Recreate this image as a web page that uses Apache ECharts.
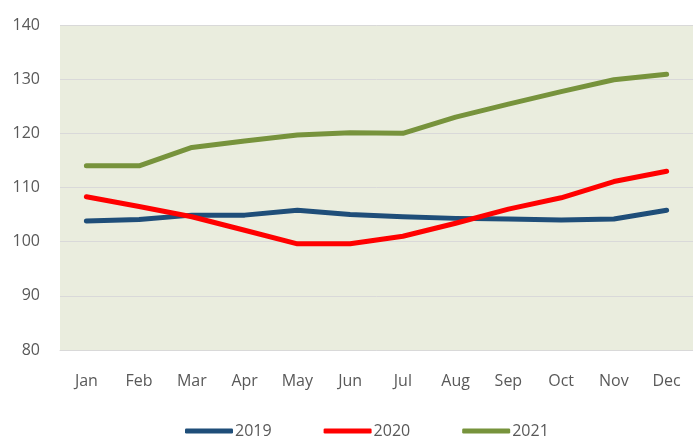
<!DOCTYPE html>
<html>
<head>
<meta charset="utf-8">
<script src="https://cdn.jsdelivr.net/npm/echarts@6/dist/echarts.min.js"></script>
<style>
  html, body { margin: 0; padding: 0; background: #ffffff; }
  #chart { width: 693px; height: 439px; }
</style>
</head>
<body>
<div id="chart"></div>
<script>
// Monthly index values, one line per year
const months = ['Jan', 'Feb', 'Mar', 'Apr', 'May', 'Jun', 'Jul', 'Aug', 'Sep', 'Oct', 'Nov', 'Dec'];
const years = ['2019', '2020', '2021'];
const values2019 = [103.8, 104.1, 104.9, 104.9, 105.8, 105.0, 104.6, 104.3, 104.2, 104.0, 104.2, 105.8];
const values2020 = [108.3, 106.5, 104.6, 102.1, 99.6, 99.6, 101.0, 103.4, 106.0, 108.1, 111.1, 113.0];
const values2021 = [114.0, 114.0, 117.4, 118.6, 119.7, 120.1, 120.0, 123.0, 125.4, 127.7, 129.9, 130.9];
const yTicks = { min: 80, max: 140, step: 10 };

const colors = ['#1F4E79', '#FF0000', '#77933C'];
const seriesValues = [values2019, values2020, values2021];

const chart = echarts.init(document.getElementById('chart'), null, { renderer: 'canvas' });

const textStyle = { color: '#595959', fontSize: 16, fontFamily: '"Open Sans", "Noto Sans", sans-serif' };

chart.setOption({
  animation: false,
  color: colors,
  grid: {
    left: 60,
    right: -10,
    top: 25,
    bottom: 89,
    show: true,
    backgroundColor: '#EAEDDE',
    borderWidth: 0
  },
  legend: {
    top: 418,
    left: 180,
    itemWidth: 48,
    itemHeight: 5,
    itemGap: 52,
    data: years.map(y => ({ name: y, icon: 'roundRect' })),
    textStyle: Object.assign({}, textStyle, { padding: [2, 0, 0, -3] })
  },
  xAxis: {
    type: 'category',
    data: months,
    boundaryGap: true,
    axisLine: { lineStyle: { color: '#D9D9D9', width: 1 } },
    axisTick: { show: false },
    axisLabel: Object.assign({ margin: 23 }, textStyle)
  },
  yAxis: {
    type: 'value',
    min: yTicks.min,
    max: yTicks.max,
    interval: yTicks.step,
    axisLine: { show: false },
    axisTick: { show: false },
    splitLine: { lineStyle: { color: '#D9D9D9', width: 1 } },
    axisLabel: Object.assign({ margin: 20 }, textStyle)
  },
  series: years.map((name, i) => ({
    name: name,
    type: 'line',
    data: seriesValues[i],
    symbol: 'none',
    lineStyle: { width: 5, color: colors[i], cap: 'round', join: 'round' },
    itemStyle: { color: colors[i] }
  }))
});
</script>
</body>
</html>
